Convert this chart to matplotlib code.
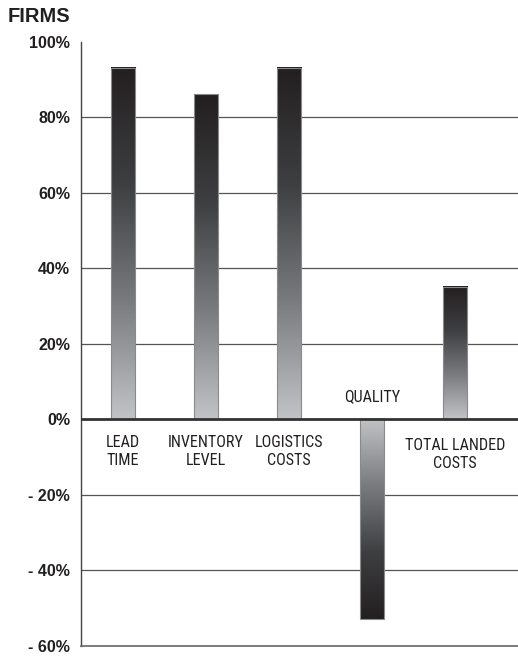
import matplotlib
matplotlib.use("Agg")
import matplotlib.pyplot as plt
import numpy as np
from matplotlib.colors import LinearSegmentedColormap

categories = ["LEAD\nTIME", "INVENTORY\nLEVEL", "LOGISTICS\nCOSTS", "QUALITY", "TOTAL LANDED\nCOSTS"]
values = [93, 86, 93, -53, 35]
yticks = [100, 80, 60, 40, 20, 0, -20, -40, -60]
ytick_labels = ["100%", "80%", "60%", "40%", "20%", "0%", "- 20%", "- 40%", "- 60%"]
title = "FIRMS"

plt.rcParams["font.family"] = ["Liberation Sans", "DejaVu Sans"]
COND = ["Roboto Condensed", "DejaVu Sans Condensed", "Liberation Sans Narrow", "Liberation Sans"]

fig = plt.figure(figsize=(5.18, 6.57), dpi=100)
ax = fig.add_axes([0.157, 0.0172, 0.843, 0.9196])

cmap = LinearSegmentedColormap.from_list("g", ["#c2c3c6", "#7a7b7e", "#3e3f41", "#231f20"])

# grid lines
for t in yticks:
    if t in (100, -60):
        continue
    if t == 0:
        ax.axhline(0, color="#333333", lw=2.0, zorder=4)
    else:
        ax.axhline(t, color="#555555", lw=0.9, zorder=1)

x = np.arange(len(values))
bars = ax.bar(x, values, width=0.29, facecolor="none", edgecolor="#8a8a8a", lw=0.8, zorder=3)
grad = np.linspace(0, 1, 256).reshape(-1, 1)
for b, v in zip(bars, values):
    x0, w = b.get_x(), b.get_width()
    y0, h = b.get_y(), b.get_height()
    lo, hi = min(y0, y0 + h), max(y0, y0 + h)
    if v >= 0:
        ext = (x0, x0 + w, lo, hi)
    else:
        ext = (x0, x0 + w, hi, lo)
    ax.imshow(grad, cmap=cmap, origin="lower", extent=ext,
              aspect="auto", zorder=2, interpolation="bilinear")
ax.set_xlim(-0.5, 4.76)
ax.set_ylim(-60, 100)

# category labels
for i, (c, v) in enumerate(zip(categories, values)):
    if v < 0:
        ax.text(i, 3.9, c, ha="center", va="bottom", fontsize=11.6, color="#231f20",
                zorder=5, family=COND)
    else:
        yy = -4.1 if i < 4 else -5.0
        ax.text(i, yy, c, ha="center", va="top", fontsize=11.6, color="#231f20",
                linespacing=1.28, zorder=5, family=COND)

for s in ("top", "right"):
    ax.spines[s].set_visible(False)
ax.spines["left"].set_color("#444444")
ax.spines["bottom"].set_color("#666666")
ax.spines["left"].set_linewidth(1.0)
ax.spines["bottom"].set_linewidth(1.2)
ax.set_xticks([])
ax.set_yticks(yticks)
ax.set_yticklabels(ytick_labels, fontweight="bold", fontsize=11.5, color="#231f20")
ax.tick_params(axis="y", length=0, pad=8)

fig.text(0.0155, 0.9756, title, fontsize=14.5, fontweight="bold", ha="left", va="center", color="#231f20")

fig.savefig("out.png", dpi=100)
